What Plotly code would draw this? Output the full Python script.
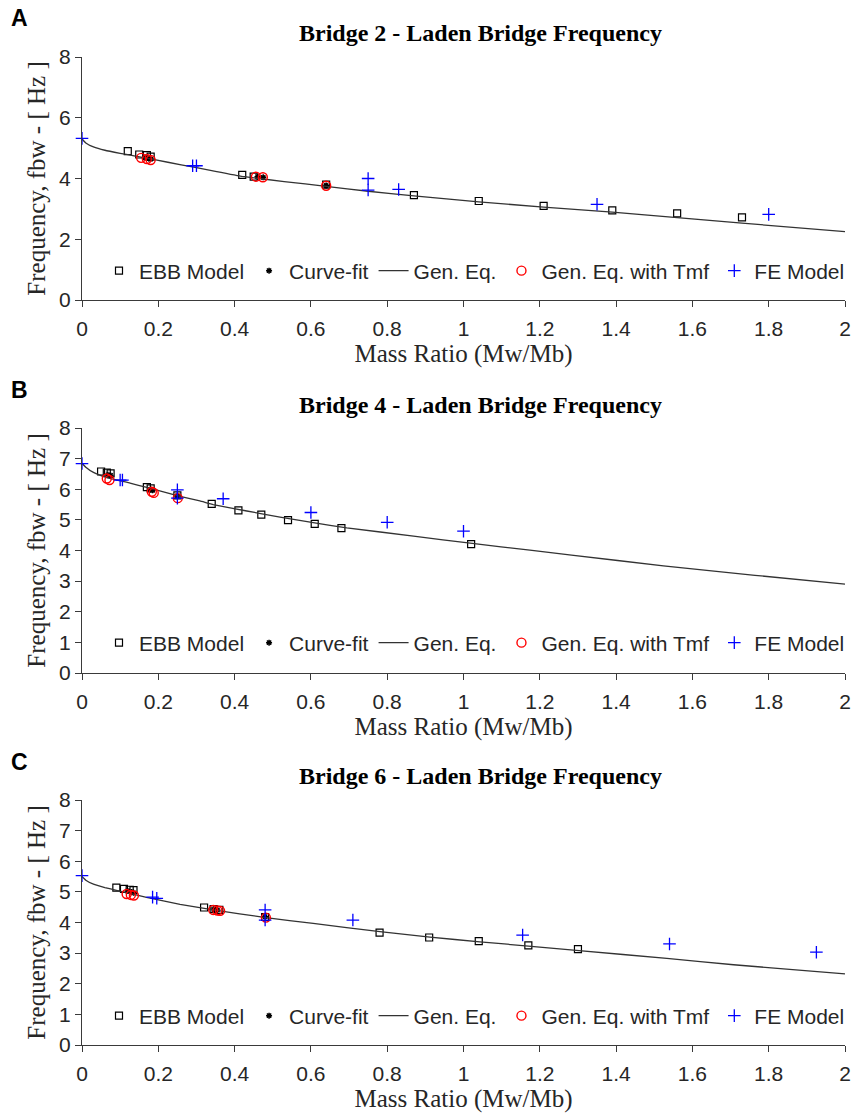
import plotly.graph_objects as go

# ---------------- data ----------------
# Bridge 2
ebb_x_A = [0.12, 0.15, 0.17, 0.18, 0.42, 0.45, 0.64, 0.87, 1.04, 1.21, 1.39, 1.56, 1.73]
ebb_y_A = [4.90, 4.79, 4.77, 4.72, 4.12, 4.06, 3.80, 3.45, 3.26, 3.10, 2.95, 2.85, 2.72]
cf_x_A = [0.165, 0.175, 0.18, 0.46, 0.475, 0.64]
cf_y_A = [4.68, 4.66, 4.64, 4.06, 4.04, 3.77]
gen_x_A = [0, 0.01, 0.03, 0.06, 0.10, 0.14, 0.19, 0.26, 0.34, 0.42, 0.53, 0.64, 0.75, 0.87, 1.04, 1.21, 1.39, 1.56, 1.73, 2.0]
gen_y_A = [5.30, 5.17, 5.04, 4.93, 4.83, 4.74, 4.62, 4.45, 4.26, 4.07, 3.90, 3.74, 3.58, 3.43, 3.23, 3.06, 2.89, 2.71, 2.53, 2.25]
tmf_x_A = [0.155, 0.17, 0.18, 0.456, 0.474, 0.64]
tmf_y_A = [4.68, 4.64, 4.61, 4.06, 4.04, 3.76]
fe_x_A = [0.0, 0.29, 0.30, 0.75, 0.75, 0.83, 1.35, 1.80]
fe_y_A = [5.32, 4.42, 4.42, 4.00, 3.62, 3.64, 3.15, 2.82]

# Bridge 4
ebb_x_B = [0.05, 0.065, 0.075, 0.17, 0.18, 0.25, 0.34, 0.41, 0.47, 0.54, 0.61, 0.68, 1.02]
ebb_y_B = [6.58, 6.54, 6.52, 6.07, 6.03, 5.80, 5.52, 5.31, 5.17, 4.99, 4.87, 4.73, 4.21]
cf_x_B = [0.068, 0.075, 0.18, 0.185, 0.25]
cf_y_B = [6.47, 6.45, 5.99, 5.97, 5.78]
gen_x_B = [0, 0.01, 0.03, 0.065, 0.126, 0.17, 0.257, 0.309, 0.344, 0.432, 0.519, 0.606, 0.694, 0.869, 1.023, 1.174, 1.283, 1.524, 1.764, 2.0]
gen_y_B = [6.85, 6.72, 6.55, 6.38, 6.20, 6.06, 5.77, 5.62, 5.50, 5.29, 5.09, 4.91, 4.74, 4.47, 4.23, 4.01, 3.85, 3.50, 3.19, 2.90]
tmf_x_B = [0.065, 0.072, 0.183, 0.188, 0.251]
tmf_y_B = [6.35, 6.30, 5.92, 5.88, 5.71]
fe_x_B = [0.0, 0.10, 0.106, 0.25, 0.25, 0.37, 0.60, 0.80, 1.00]
fe_y_B = [6.84, 6.30, 6.30, 5.98, 5.71, 5.69, 5.24, 4.92, 4.63]

# Bridge 6
ebb_x_C = [0.09, 0.11, 0.125, 0.135, 0.32, 0.345, 0.36, 0.48, 0.78, 0.91, 1.04, 1.17, 1.30]
ebb_y_C = [5.14, 5.10, 5.07, 5.06, 4.49, 4.44, 4.41, 4.18, 3.67, 3.51, 3.39, 3.25, 3.13]
cf_x_C = [0.12, 0.13, 0.135, 0.345, 0.355, 0.48]
cf_y_C = [5.03, 5.00, 4.97, 4.43, 4.41, 4.19]
gen_x_C = [0, 0.01, 0.03, 0.06, 0.09, 0.125, 0.169, 0.257, 0.344, 0.482, 0.606, 0.781, 0.912, 1.043, 1.170, 1.303, 1.533, 1.708, 2.0]
gen_y_C = [5.50, 5.38, 5.25, 5.14, 5.05, 4.95, 4.82, 4.59, 4.41, 4.16, 3.97, 3.70, 3.52, 3.37, 3.23, 3.08, 2.83, 2.62, 2.32]
tmf_x_C = [0.117, 0.128, 0.136, 0.344, 0.355, 0.362, 0.482]
tmf_y_C = [4.93, 4.90, 4.88, 4.41, 4.39, 4.38, 4.16]
fe_x_C = [0.0, 0.185, 0.196, 0.48, 0.48, 0.71, 1.155, 1.54, 1.925]
fe_y_C = [5.53, 4.83, 4.79, 4.41, 4.08, 4.08, 3.59, 3.30, 3.03]

titles = ["Bridge 2 - Laden Bridge Frequency",
          "Bridge 4 - Laden Bridge Frequency",
          "Bridge 6 - Laden Bridge Frequency"]
letters = ["A", "B", "C"]
x_ticks = [0, 0.2, 0.4, 0.6, 0.8, 1, 1.2, 1.4, 1.6, 1.8, 2]
y_ticks_A = [0, 2, 4, 6, 8]
y_ticks_BC = [0, 1, 2, 3, 4, 5, 6, 7, 8]

series_names = ["EBB Model", "Curve-fit", "Gen. Eq.", "Gen. Eq. with Tmf", "FE Model"]

# ---------------- layout geometry ----------------
W, H = 855, 1115
x_left_px, x_right_px = 82, 845
panels_px = [(57, 300), (428, 673), (800, 1045)]   # (top, bottom) of plot area
title_y_px = [33, 405, 776]
letter_y_px = [18, 390, 762]
legend_y_px = [271, 643, 1016]

def py(p):
    return 1 - p / H

SANS = "Liberation Sans, Arial, sans-serif"
SERIF = "Liberation Serif, Times New Roman, serif"
AXC = "#3a3a3a"
TXT = "#262626"

fig = go.Figure()

data = [
    (ebb_x_A, ebb_y_A, cf_x_A, cf_y_A, gen_x_A, gen_y_A, tmf_x_A, tmf_y_A, fe_x_A, fe_y_A),
    (ebb_x_B, ebb_y_B, cf_x_B, cf_y_B, gen_x_B, gen_y_B, tmf_x_B, tmf_y_B, fe_x_B, fe_y_B),
    (ebb_x_C, ebb_y_C, cf_x_C, cf_y_C, gen_x_C, gen_y_C, tmf_x_C, tmf_y_C, fe_x_C, fe_y_C),
]

annotations = []
for i, d in enumerate(data):
    sfx = "" if i == 0 else str(i + 1)
    xa, ya = "x" + sfx, "y" + sfx
    lg = "legend" + sfx
    ex, ey, cx, cy, gx, gy, tx, ty, fx, fy = d
    common = dict(xaxis=xa, yaxis=ya, legend=lg, cliponaxis=False)
    fig.add_trace(go.Scatter(x=ex, y=ey, mode="markers", name=series_names[0],
                             marker=dict(symbol="square-open", size=7, color="black",
                                         line=dict(width=1.2, color="black")), **common))
    fig.add_trace(go.Scatter(x=cx, y=cy, mode="markers", name=series_names[1],
                             marker=dict(symbol="asterisk-open", size=5, color="black",
                                         line=dict(width=1.5, color="black")), **common))
    fig.add_trace(go.Scatter(x=gx, y=gy, mode="lines", name=series_names[2],
                             line=dict(color="#333333", width=1.3, shape="spline", smoothing=0.3),
                             **common))
    fig.add_trace(go.Scatter(x=tx, y=ty, mode="markers", name=series_names[3],
                             marker=dict(symbol="circle-open", size=9, color="red",
                                         line=dict(width=1.4, color="red")), **common))
    fig.add_trace(go.Scatter(x=fx, y=fy, mode="markers", name=series_names[4],
                             marker=dict(symbol="cross-thin-open", size=9, color="blue",
                                         line=dict(width=1.3, color="blue")), **common))

    top, bot = panels_px[i]
    fig.layout["xaxis" + sfx] = dict(
        domain=[x_left_px / W, x_right_px / W], anchor=ya, range=[0, 2],
        tickvals=x_ticks, ticks="outside", ticklen=6, tickcolor=AXC,
        showline=True, linecolor=AXC, linewidth=1, showgrid=False, zeroline=False,
        tickfont=dict(family=SANS, size=21, color=TXT), ticklabelstandoff=4,
        title=dict(text="Mass Ratio (Mw/Mb)", font=dict(family=SERIF, size=25, color=TXT), standoff=0),
        automargin=False)
    fig.layout["yaxis" + sfx] = dict(
        domain=[py(bot), py(top)], anchor=xa, range=[0, 8],
        tickvals=y_ticks_A if i == 0 else y_ticks_BC, ticks="outside", ticklen=6, tickcolor=AXC,
        showline=True, linecolor=AXC, linewidth=1, showgrid=False, zeroline=False,
        tickfont=dict(family=SANS, size=21, color=TXT),
        title=dict(text="Frequency, fbw - [ Hz ]", font=dict(family=SERIF, size=25, color=TXT), standoff=6),
        automargin=False)
    fig.layout[lg] = dict(
        orientation="h", x=850 / W, xanchor="right", y=py(legend_y_px[i]), yanchor="middle",
        bgcolor="rgba(0,0,0,0)", borderwidth=0,
        font=dict(family=SANS, size=21, color=TXT), itemwidth=30, tracegroupgap=0)

    annotations.append(dict(text="<b>" + titles[i] + "</b>", x=480 / W, y=py(title_y_px[i]),
                            xref="paper", yref="paper", showarrow=False,
                            xanchor="center", yanchor="middle",
                            font=dict(family=SERIF, size=24, color="black")))
    annotations.append(dict(text="<b>" + letters[i] + "</b>", x=9 / W, y=py(letter_y_px[i]),
                            xref="paper", yref="paper", showarrow=False,
                            xanchor="left", yanchor="middle",
                            font=dict(family=SANS, size=23, color="black")))

fig.update_layout(width=W, height=H, margin=dict(l=0, r=0, t=0, b=0),
                  paper_bgcolor="white", plot_bgcolor="white",
                  annotations=annotations)

fig.write_html("out.html")
